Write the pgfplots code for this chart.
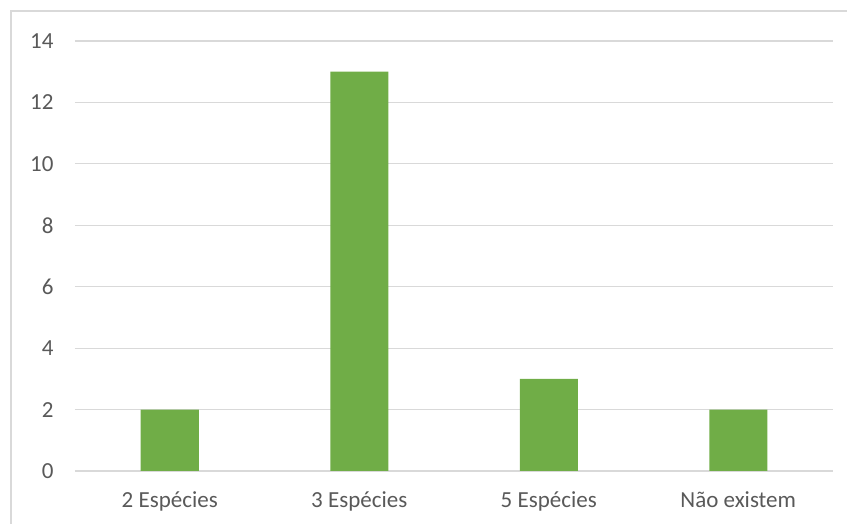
\documentclass[border=0pt]{standalone}
\usepackage{pgfplots}
\pgfplotsset{compat=1.18}
\usepackage{fontspec}
\setmainfont{Carlito}
\definecolor{barGreen}{HTML}{70AD47}
\definecolor{gridGray}{HTML}{D9D9D9}
\definecolor{textGray}{HTML}{595959}
\begin{document}
\begin{tikzpicture}[x=1pt,y=1pt]
\path[use as bounding box] (0,0) rectangle (847,524);
% chart area frame (left and top edges)
\draw[gridGray, line width=1.5pt] (11,-5) -- (11,513) -- (860,513);
\begin{axis}[
  at={(75pt,53pt)}, anchor=south west,
  scale only axis, width=758pt, height=430pt,
  xmin=-0.5, xmax=3.5, ymin=0, ymax=14,
  ytick={0,2,...,14},
  xtick={0,1,2,3},
  xticklabels={2 Espécies, 3 Espécies, 5 Espécies, Não existem},
  axis line style={draw=none},
  ymajorgrids, grid style={gridGray, line width=1.2pt},
  major tick length=0pt,
  tick label style={font=\fontsize{23}{27}\selectfont, text=textGray},
  /pgf/number format/assume math mode=true,
  yticklabel style={xshift=-18pt},
  xticklabel style={yshift=-17pt},
  ybar, bar width=58pt,
  clip=false,
]
\addplot[fill=barGreen, draw=none] coordinates {(0,2) (1,13) (2,3) (3,2)};
\end{axis}
\end{tikzpicture}
\end{document}
